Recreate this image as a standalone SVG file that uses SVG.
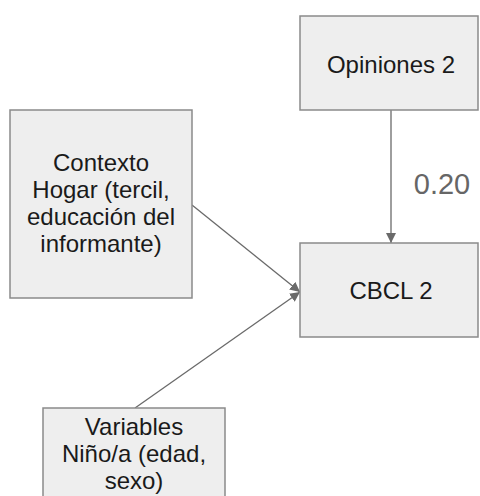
<svg xmlns="http://www.w3.org/2000/svg" width="480" height="496" viewBox="0 0 480 496">
<style>
.box{fill:#eeeeee;stroke:#8a8a8a;stroke-width:1.5}
.t{font-family:"Liberation Sans",Arial,sans-serif;font-size:24px;fill:#1a1a1a;text-anchor:middle}
.c{stroke:#6a6a6a;stroke-width:1.3;fill:none;marker-end:url(#ah)}
</style>
<defs>
<marker id="ah" viewBox="0 0 10 10" refX="10" refY="5" markerWidth="10" markerHeight="10" markerUnits="userSpaceOnUse" orient="auto">
<path d="M0,0 L10,5 L0,10 z" fill="#6a6a6a"/>
</marker>
</defs>
<rect width="480" height="496" fill="#ffffff"/>
<g id="connectors">
<line class="c" x1="391" y1="110" x2="391" y2="243"/>
<line class="c" x1="192" y1="205" x2="300" y2="292"/>
<line class="c" x1="135" y1="408" x2="300" y2="292"/>
<text x="442" y="194" style="font-family:'Liberation Sans',Arial,sans-serif;font-size:29px;fill:#666666;text-anchor:middle">0.20</text>
</g>
<g id="opiniones">
<rect class="box" x="300" y="16" width="178" height="94"/>
<text class="t" x="391" y="73">Opiniones 2</text>
</g>
<g id="contexto">
<rect class="box" x="10" y="110" width="182" height="188"/>
<text class="t" x="101" y="171">Contexto</text>
<text class="t" x="101" y="198">Hogar (tercil,</text>
<text class="t" x="101" y="225">educación del</text>
<text class="t" x="101" y="252">informante)</text>
</g>
<g id="cbcl">
<rect class="box" x="300" y="243" width="178" height="94"/>
<text class="t" x="391" y="299">CBCL 2</text>
</g>
<g id="variables">
<rect class="box" x="43" y="408" width="182" height="100"/>
<text class="t" x="134" y="435">Variables</text>
<text class="t" x="134" y="462">Niño/a (edad,</text>
<text class="t" x="134" y="489">sexo)</text>
</g>
</svg>
